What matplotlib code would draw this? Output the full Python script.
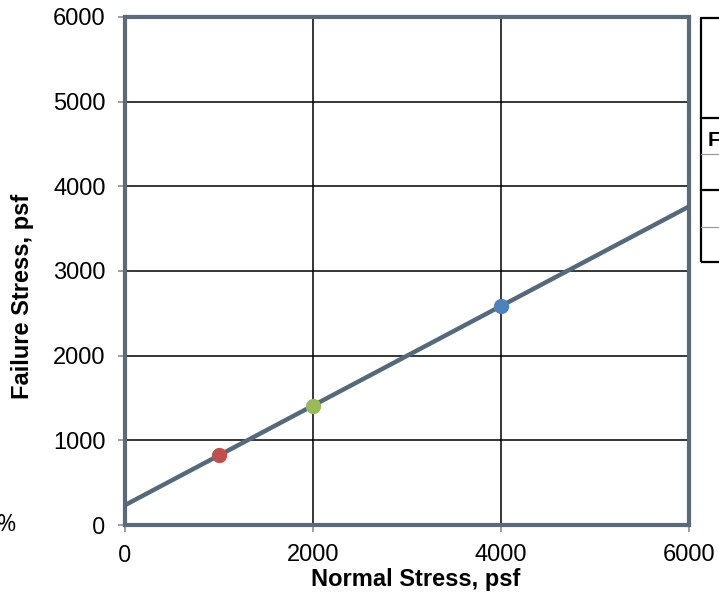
import numpy as np
import matplotlib.pyplot as plt
from matplotlib.patches import Rectangle
from matplotlib.lines import Line2D

plt.rcParams['font.family'] = ['Liberation Sans', 'DejaVu Sans']

normal_stress = np.array([1000, 2000, 4000])
failure_stress = np.array([830, 1400, 2590])
point_colors = ['#c0504d', '#9bbb59', '#4f81bd']
ticks = [0, 1000, 2000, 3000, 4000, 5000, 6000]
x_ticks = [0, 2000, 4000, 6000]

frame = '#5a6a78'

fig = plt.figure(figsize=(7.19, 6), dpi=100)
ax = fig.add_axes([0.1739, 0.125, 0.7845, 0.8467])

# linear trend through the three tests
slope, icpt = np.polyfit(normal_stress, failure_stress, 1)
xx = np.array([0, 6000])
ax.plot(xx, slope * xx + icpt, color='#56697a', lw=3.2, zorder=3, solid_capstyle='butt')
for x, y, c in zip(normal_stress, failure_stress, point_colors):
    ax.plot(x, y, 'o', color=c, ms=10, zorder=4)

ax.set_xlim(0, 6000)
ax.set_ylim(0, 6000)
ax.set_xticks(x_ticks)
ax.set_yticks(ticks)
ax.grid(True, color='black', lw=1.1)
ax.set_axisbelow(True)
for s in ax.spines.values():
    s.set_color(frame)
    s.set_linewidth(3)
ax.tick_params(direction='out', length=5, width=1.2, color='#8a9099',
               labelsize=17, pad=9)
for lbl in ax.get_xticklabels() + ax.get_yticklabels():
    if lbl.get_text() == '0':
        lbl.set_fontfamily('Open Sans')

ax.set_xlabel('Normal Stress, psf', fontsize=17, fontweight='bold', va='center')
ax.set_ylabel('Failure Stress, psf', fontsize=17, fontweight='bold', va='center')
ax.xaxis.set_label_coords(0.515, -0.108)
ax.yaxis.set_label_coords(-0.181, 0.45)

fig.text(-0.004, 0.125, '%', fontsize=17, family='Open Sans', va='center', ha='left')

# table cut off at the right edge
W, H = 719, 600
def fx(p): return p / W
def fy(p): return 1 - p / H
fig.patches.append(Rectangle((fx(701), fy(262)), fx(60), fy(18) - fy(262),
                             transform=fig.transFigure, fill=False,
                             edgecolor='black', lw=1.6))
for yp, c, w in [(118, 'black', 1.6), (154, '#999999', 0.9),
                 (190, 'black', 1.6), (227, '#999999', 0.9)]:
    fig.lines.append(Line2D([fx(701), 1.0], [fy(yp), fy(yp)], transform=fig.transFigure,
                            color=c, lw=w))
fig.text(fx(708), fy(140), 'F', fontsize=15, fontweight='bold', va='center', ha='left')

fig.savefig('out.png', dpi=100)
